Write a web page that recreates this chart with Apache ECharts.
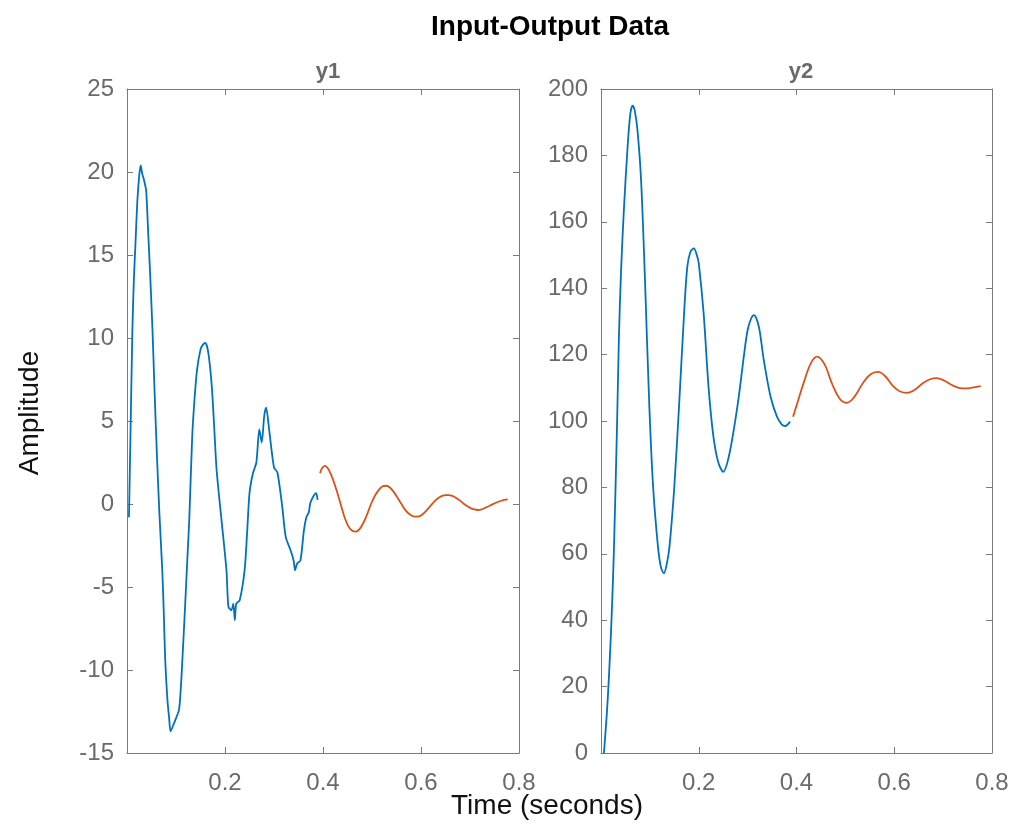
<!DOCTYPE html>
<html>
<head>
<meta charset="utf-8">
<script src="https://cdn.jsdelivr.net/npm/echarts@6/dist/echarts.min.js"></script>
<style>html,body{margin:0;padding:0;background:#fff}#c{width:1016px;height:829px}</style>
</head>
<body>
<div id="c"></div>
<script>
// ---- data (time in seconds, amplitude) ----
const xTicks = [0.2, 0.4, 0.6, 0.8];
const y1Ticks = [-15, -10, -5, 0, 5, 10, 15, 20, 25];
const y2Ticks = [0, 20, 40, 60, 80, 100, 120, 140, 160, 180, 200];

// y1, first half (blue)
const y1First = [
  [0.004,-0.8],[0.007,4.0],[0.011,10.5],[0.014,13.5],[0.017,15.5],[0.021,18.2],[0.025,19.8],[0.028,20.4],
  [0.031,19.9],[0.034,19.6],[0.039,18.9],[0.043,16.5],[0.047,14.0],[0.052,10.5],[0.056,7.0],[0.061,3.0],
  [0.066,-0.5],[0.072,-4.0],[0.075,-6.5],[0.078,-9.4],[0.0825,-11.8],[0.086,-12.9],[0.089,-13.7],
  [0.096,-13.2],[0.106,-12.4],[0.110,-11.0],[0.113,-9.4],[0.118,-6.5],[0.123,-3.4],[0.127,-1.0],
  [0.133,4.0],[0.138,6.4],[0.143,8.1],[0.150,9.3],[0.155,9.6],[0.160,9.7],[0.166,9.1],[0.173,7.1],
  [0.178,4.6],[0.183,2.0],[0.193,-1.0],[0.203,-4.0],[0.207,-6.2],[0.213,-6.4],[0.217,-6.0],[0.220,-7.0],
  [0.223,-6.0],[0.230,-5.8],[0.240,-4.0],[0.245,-1.8],[0.250,0.65],[0.257,1.85],[0.264,2.5],[0.270,4.5],
  [0.275,3.7],[0.280,5.3],[0.284,5.8],[0.290,4.5],[0.300,2.2],[0.307,1.9],[0.317,-0.2],[0.324,-2.0],
  [0.334,-2.8],[0.340,-3.4],[0.343,-4.0],[0.347,-3.6],[0.354,-3.4],[0.361,-1.6],[0.366,-0.8],
  [0.371,-0.5],[0.374,0.05],[0.381,0.5],[0.386,0.65],[0.389,0.25]
];
// y1, second half (orange)
const y1Second = [
  [0.394,1.85],[0.398,2.15],[0.404,2.3],[0.412,2.05],[0.420,1.5],[0.428,0.8],[0.436,0.0],[0.444,-0.8],
  [0.451,-1.3],[0.459,-1.6],[0.467,-1.67],[0.475,-1.5],[0.483,-1.1],[0.491,-0.55],[0.498,0.0],
  [0.506,0.5],[0.514,0.85],[0.521,1.05],[0.529,1.1],[0.537,0.98],[0.545,0.7],[0.553,0.33],[0.561,-0.05],
  [0.569,-0.4],[0.578,-0.65],[0.587,-0.76],[0.596,-0.74],[0.604,-0.6],[0.611,-0.4],[0.619,-0.12],
  [0.626,0.12],[0.634,0.33],[0.641,0.46],[0.649,0.53],[0.656,0.54],[0.664,0.49],[0.671,0.38],
  [0.679,0.22],[0.686,0.05],[0.694,-0.12],[0.701,-0.25],[0.709,-0.33],[0.716,-0.36],[0.724,-0.32],
  [0.731,-0.23],[0.739,-0.12],[0.746,-0.02],[0.754,0.09],[0.762,0.18],[0.770,0.25],[0.777,0.28]
];
// y2, first half (blue)
const y2First = [
  [0.006,0],[0.012,12],[0.0166,24],[0.022,42],[0.0266,62],[0.033,100],[0.0366,125],[0.041,145],[0.0466,163],
  [0.0546,183],[0.060,192.5],[0.0646,195],[0.069,193.5],[0.0746,187.6],[0.082,172.6],[0.090,142.5],[0.0986,105.4],
  [0.1066,80.2],[0.1166,62.1],[0.1226,56],[0.1286,54.1],[0.134,56.5],[0.140,62],[0.150,80.2],[0.160,105.3],[0.170,132.4],
  [0.1766,146.5],[0.183,151],[0.190,152],[0.196,150],[0.200,147.5],[0.210,132.4],[0.220,110.3],[0.230,95.3],
  [0.240,87.5],[0.250,84.7],[0.263,90.3],[0.280,105.3],[0.293,120.4],[0.300,127.4],[0.307,130.8],[0.313,131.9],
  [0.323,128.4],[0.333,118.4],[0.347,107.3],[0.360,101.3],[0.370,98.9],[0.377,98.5],[0.387,99.8]
];
// y2, second half (orange)
const y2Second = [
  [0.393,101.3],[0.405,107],[0.418,113],[0.430,117.6],[0.442,119.4],[0.457,117.2],[0.472,111.5],
  [0.488,106.8],[0.503,105.5],[0.518,107.2],[0.535,111.2],[0.551,114.0],[0.567,114.8],[0.582,113.4],
  [0.597,110.6],[0.612,108.9],[0.627,108.5],[0.642,109.4],[0.657,111.2],[0.672,112.5],[0.687,112.9],
  [0.702,112.2],[0.717,110.9],[0.732,110.0],[0.747,109.8],[0.762,110.1],[0.777,110.5]
];

const BLUE = '#0072BD', ORANGE = '#D95319';
const AX = '#7a7a7a', LBL = '#6a6a6a';
const FONT = 'Liberation Sans, Arial, Helvetica, sans-serif';

const chart = echarts.init(document.getElementById('c'), null, {renderer: 'canvas'});

function xAx(grid, pos) {
  return {
    type: 'value', gridIndex: grid, position: pos, min: 0, max: 0.8, interval: 0.2,
    axisLine: {show: true, onZero: false, lineStyle: {color: AX, width: 1}},
    axisTick: {show: true, inside: true, length: 6, lineStyle: {color: AX}},
    splitLine: {show: false},
    axisLabel: {show: pos === 'bottom', margin: 18, color: LBL, fontSize: 24, fontFamily: FONT,
      formatter: v => (Math.abs(v) < 1e-9 ? '' : String(+v.toFixed(1)))}
  };
}
function yAx(grid, pos, mn, mx, iv) {
  return {
    type: 'value', gridIndex: grid, position: pos, min: mn, max: mx, interval: iv,
    axisLine: {show: true, onZero: false, lineStyle: {color: AX, width: 1}},
    axisTick: {show: true, inside: true, length: 6, lineStyle: {color: AX}},
    splitLine: {show: false},
    axisLabel: {show: pos === 'left', margin: 13, color: LBL, fontSize: 24, fontFamily: FONT}
  };
}
function line(data, color, xi, yi, smooth) {
  return {type: 'line', data: data, xAxisIndex: xi, yAxisIndex: yi, showSymbol: false, symbol: 'none',
    smooth: smooth, lineStyle: {color: color, width: 1.8}, itemStyle: {color: color}, animation: false};
}

chart.setOption({
  backgroundColor: '#fff',
  animation: false,
  title: [
    {text: 'Input-Output Data', left: 545, top: 8, textAlign: 'center',
      textStyle: {fontSize: 28, fontWeight: 'bold', color: '#000', fontFamily: FONT}},
    {text: 'y1', left: 323, top: 56, textAlign: 'center',
      textStyle: {fontSize: 22, fontWeight: 'bold', color: LBL, fontFamily: FONT}},
    {text: 'y2', left: 796, top: 56, textAlign: 'center',
      textStyle: {fontSize: 22, fontWeight: 'bold', color: LBL, fontFamily: FONT}}
  ],
  graphic: [
    {type: 'text', x: 30, y: 413, rotation: Math.PI / 2,
      style: {text: 'Amplitude', fill: '#111', font: '28px ' + FONT, textAlign: 'center', textVerticalAlign: 'middle'}},
    {type: 'text', x: 547, y: 806,
      style: {text: 'Time (seconds)', fill: '#111', font: '28px ' + FONT, textAlign: 'center', textVerticalAlign: 'middle'}}
  ],
  grid: [
    {left: 127, top: 89, width: 392, height: 664},
    {left: 601, top: 89, width: 391, height: 664}
  ],
  xAxis: [xAx(0, 'bottom'), xAx(0, 'top'), xAx(1, 'bottom'), xAx(1, 'top')],
  yAxis: [yAx(0, 'left', -15, 25, 5), yAx(0, 'right', -15, 25, 5), yAx(1, 'left', 0, 200, 20), yAx(1, 'right', 0, 200, 20)],
  series: [
    line(y1First, BLUE, 0, 0, 0.25),
    line(y1Second, ORANGE, 0, 0, 0.3),
    line(y2First, BLUE, 2, 2, 0.3),
    line(y2Second, ORANGE, 2, 2, 0.4)
  ]
});
</script>
</body>
</html>
